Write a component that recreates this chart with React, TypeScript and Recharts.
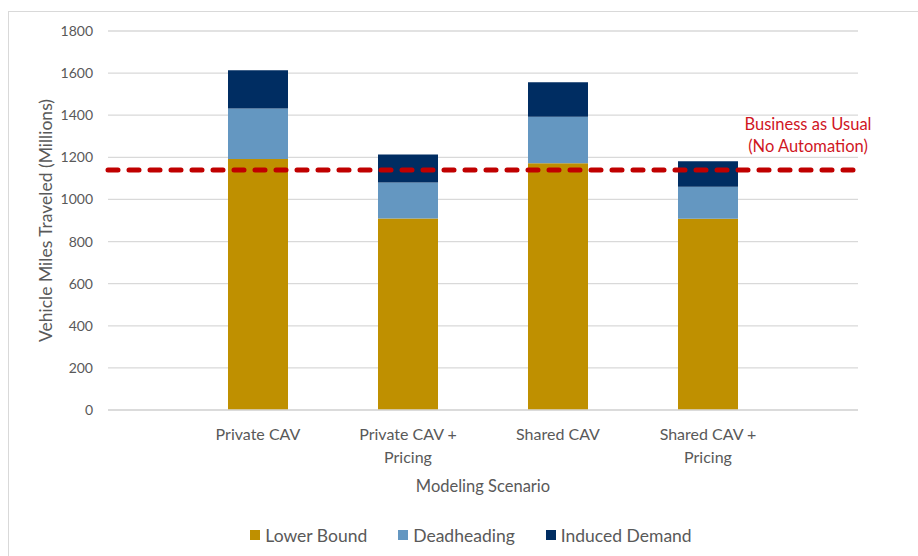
import React from "react";
import {
  ComposedChart,
  Bar,
  XAxis,
  YAxis,
  CartesianGrid,
  ReferenceLine,
  Legend,
} from "recharts";

// scenario slots on the x axis (1..4, axis runs 0..5 like the Excel chart)
const scenarioSlots = [1, 2, 3, 4];
const scenarioLabels = [
  ["Private CAV"],
  ["Private CAV +", "Pricing"],
  ["Shared CAV"],
  ["Shared CAV +", "Pricing"],
];
const lowerBound = [1192, 910, 1172, 908];
const deadheading = [240, 171, 221, 152];
const inducedDemand = [181, 133, 164, 121];
const businessAsUsual = 1140;
const yTicks = [0, 200, 400, 600, 800, 1000, 1200, 1400, 1600, 1800];

const seriesInfo = [
  { key: "lower", name: "Lower Bound", color: "#bf9000" },
  { key: "dead", name: "Deadheading", color: "#6497c1" },
  { key: "induced", name: "Induced Demand", color: "#002d62" },
];

const data = scenarioSlots.map((slot, i) => ({
  slot,
  lower: lowerBound[i],
  dead: deadheading[i],
  induced: inducedDemand[i],
}));

const FONT = "Lato, 'Open Sans', sans-serif";
const GREY = "#595959";

const ScenarioTick = (props: any) => {
  const { x, y, payload } = props;
  const lines = scenarioLabels[scenarioSlots.indexOf(payload.value)] || [];
  return (
    <text x={x} y={y} textAnchor="middle" fill={GREY} fontSize={16} fontFamily={FONT}>
      {lines.map((line, i) => (
        <tspan key={i} x={x} dy={i === 0 ? 30 : 23}>
          {line}
        </tspan>
      ))}
    </text>
  );
};

const BauLabel = (props: any) => {
  const { viewBox } = props;
  const cx = viewBox.x + viewBox.width - 50;
  return (
    <text x={cx} y={viewBox.y - 40} textAnchor="middle" fill="#d0161f" fontSize={16.5} fontFamily={FONT}>
      <tspan x={cx}>Business as Usual</tspan>
      <tspan x={cx} dy={22}>(No Automation)</tspan>
    </text>
  );
};

const LegendBox = () => (
  <div
    style={{
      display: "flex",
      justifyContent: "center",
      alignItems: "center",
      gap: 31,
      height: 20,
      fontFamily: FONT,
      fontSize: 17.5,
      color: GREY,
    }}
  >
    {seriesInfo.map((s) => (
      <div key={s.key} style={{ display: "flex", alignItems: "center", gap: 5 }}>
        <span style={{ width: 10, height: 10, background: s.color, display: "inline-block" }} />
        <span>{s.name}</span>
      </div>
    ))}
  </div>
);

export default function App() {
  return (
    <div
      style={{
        position: "fixed",
        left: 0,
        top: 0,
        width: 918,
        height: 556,
        overflow: "hidden",
        background: "#fff",
      }}
    >
      <div
        style={{
          position: "absolute",
          left: 8,
          top: 11,
          width: 1000,
          height: 700,
          border: "1px solid #d9d9d9",
        }}
      />
      <ComposedChart
        width={918}
        height={556}
        data={data}
        margin={{ top: 31, right: 60, left: 0, bottom: 41 }}
        style={{ position: "absolute", left: 0, top: 0 }}
      >
        <CartesianGrid vertical={false} stroke="#d9d9d9" strokeWidth={1.3} />
        <XAxis
          dataKey="slot"
          type="number"
          domain={[0, 5]}
          ticks={scenarioSlots}
          interval={0}
          height={85}
          tickLine={false}
          tickSize={0}
          tickMargin={0}
          axisLine={{ stroke: "#d9d9d9", strokeWidth: 1.3 }}
          tick={<ScenarioTick />}
          label={{
            value: "Modeling Scenario",
            position: "insideTop",
            offset: 70,
            fill: GREY,
            fontSize: 16.5,
            fontFamily: FONT,
          }}
        />
        <YAxis
          domain={[0, 1800]}
          ticks={yTicks}
          width={108}
          tickLine={false}
          tickSize={0}
          tickMargin={15}
          axisLine={false}
          tick={{ fill: GREY, fontSize: 14, fontFamily: FONT }}
          label={{
            value: "Vehicle Miles Traveled (Millions)",
            angle: -90,
            position: "center",
            dx: -8,
            fill: GREY,
            fontSize: 17.5,
            fontFamily: FONT,
          }}
        />
        {seriesInfo.map((s) => (
          <Bar
            key={s.key}
            dataKey={s.key}
            name={s.name}
            stackId="vmt"
            fill={s.color}
            barSize={60}
            isAnimationActive={false}
          />
        ))}
        <ReferenceLine
          y={businessAsUsual}
          stroke="#c00000"
          strokeWidth={5}
          strokeDasharray="10 11"
          strokeLinecap="round"
          label={<BauLabel />}
        />
        <Legend
          content={<LegendBox />}
          verticalAlign="bottom"
          wrapperStyle={{ left: 12, width: 918, top: 525, bottom: "auto" }}
        />
      </ComposedChart>
    </div>
  );
}
